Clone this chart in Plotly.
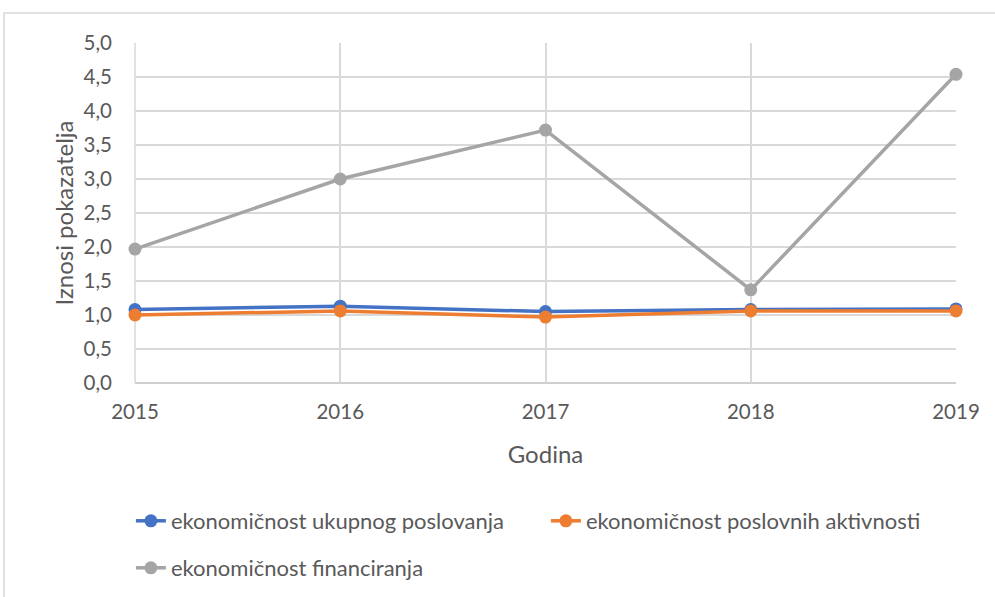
import plotly.graph_objects as go

years = [2015, 2016, 2017, 2018, 2019]
ukupno = [1.08, 1.13, 1.05, 1.08, 1.09]
poslovne = [1.00, 1.06, 0.97, 1.06, 1.06]
financiranje = [1.97, 3.00, 3.72, 1.37, 4.54]
y_ticks = [0, 0.5, 1, 1.5, 2, 2.5, 3, 3.5, 4, 4.5, 5]
y_labels = ["0,0", "0,5", "1,0", "1,5", "2,0", "2,5", "3,0", "3,5", "4,0", "4,5", "5,0"]

series = [
    ("ekonomičnost ukupnog poslovanja", ukupno, "#4472C4", "legend"),
    ("ekonomičnost poslovnih aktivnosti", poslovne, "#ED7D31", "legend"),
    ("ekonomičnost financiranja", financiranje, "#A5A5A5", "legend2"),
]

FONT = "Lato, 'Open Sans', sans-serif"
TXT = "#595959"
fig = go.Figure()
for name, vals, col, leg in series:
    fig.add_trace(go.Scatter(
        x=years, y=vals, name=name, mode="lines+markers",
        line=dict(color=col, width=3.5),
        marker=dict(color=col, size=13),
        cliponaxis=False, legend=leg,
    ))

legend_common = dict(
    orientation="h", xanchor="left", yanchor="middle",
    font=dict(family=FONT, size=22, color=TXT),
    bgcolor="rgba(0,0,0,0)",
)

fig.update_layout(
    width=995, height=597,
    margin=dict(l=135, r=39, t=43, b=214, autoexpand=False),
    paper_bgcolor="white", plot_bgcolor="white",
    font=dict(family=FONT, size=21, color=TXT),
    showlegend=True,
    legend=dict(legend_common, x=-0.005, y=(383 - 521) / 340,
                entrywidth=370, entrywidthmode="pixels"),
    legend2=dict(legend_common, x=-0.005, y=(383 - 568) / 340),
    xaxis=dict(
        range=[2015, 2019], tickvals=years, ticktext=[str(y) for y in years],
        showgrid=True, gridcolor="#d9d9d9", gridwidth=1.5,
        showline=False, zeroline=False, ticks="", ticklabelstandoff=14,
        tickfont=dict(size=20.5, color=TXT),
        title=dict(text="Godina", font=dict(size=24, color=TXT), standoff=24),
    ),
    yaxis=dict(
        range=[0, 5], tickvals=y_ticks, ticktext=y_labels,
        showgrid=True, gridcolor="#d9d9d9", gridwidth=1.5,
        showline=False, zeroline=False, ticks="", ticklabelstandoff=22,
        tickfont=dict(size=20.5, color=TXT),
        title=dict(text="Iznosi pokazatelja", font=dict(size=24, color=TXT), standoff=3),
    ),
    shapes=[
        dict(type="line", xref="paper", yref="paper", x0=0, x1=1, y0=0, y1=0,
             line=dict(color="#bfbfbf", width=1.5), layer="below"),
        dict(type="line", xref="paper", yref="paper", x0=0, x1=0, y0=0, y1=1,
             line=dict(color="#d9d9d9", width=1.5), layer="below"),
        dict(type="rect", xref="paper", yref="paper",
             x0=(4 - 135) / 821, x1=(1000 - 135) / 821,
             y0=(383 - 605) / 340, y1=(383 - 13) / 340,
             line=dict(color="#d9d9d9", width=1.5), fillcolor="rgba(0,0,0,0)",
             layer="below"),
    ],
)

fig.write_html("out.html")
